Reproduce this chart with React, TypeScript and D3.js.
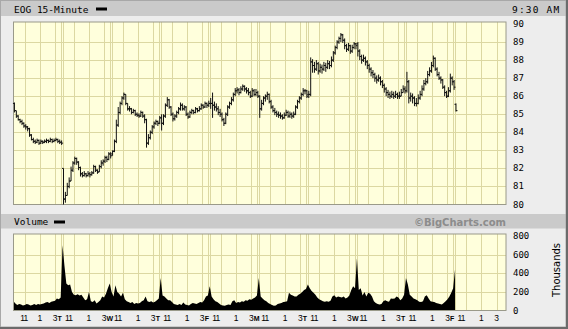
import React from "react";
import * as d3 from "d3";

const W = 568;
const H = 329;

// Trading days shown (15-minute bars, 26 per day)
const dayLetters = ["M", "T", "W", "T", "F", "M", "T", "W", "T", "F"];
const dayOpens = [85.6, 82.0, 82.8, 84.8, 85.6, 86.0, 86.1, 88.9, 86.3, 85.55];

// [high, low, close] per 15-minute bar
const mon1 = [[85.65,85.1,85.2],[85.2,84.8,84.9],[84.95,84.65,84.7],[84.75,84.5,84.6],[84.7,84.4,84.5],[84.55,84.25,84.35],[84.45,84.15,84.3],[84.35,84.05,84.2],[84.25,83.75,83.85],[83.9,83.55,83.6],[83.7,83.4,83.5],[83.6,83.35,83.45],[83.65,83.4,83.55],[83.6,83.3,83.4],[83.6,83.35,83.5],[83.55,83.35,83.45],[83.6,83.4,83.5],[83.65,83.4,83.55],[83.6,83.4,83.5],[83.7,83.45,83.6],[83.65,83.4,83.5],[83.65,83.45,83.55],[83.7,83.5,83.6],[83.65,83.4,83.5],[83.6,83.35,83.45],[83.55,83.3,83.4]];
const tue1 = [[82.0,80.0,80.3],[80.7,80.1,80.5],[81.2,80.5,81.0],[81.5,80.9,81.3],[82.1,81.3,81.9],[82.4,81.8,82.3],[82.65,82.2,82.55],[82.6,82.2,82.35],[82.4,81.9,82.05],[82.1,81.55,81.7],[81.8,81.5,81.6],[81.85,81.55,81.7],[81.75,81.5,81.6],[81.85,81.55,81.7],[81.8,81.5,81.65],[81.85,81.6,81.75],[82.2,81.7,82.1],[82.15,81.8,81.9],[81.95,81.7,81.8],[82.2,81.8,82.1],[82.45,82.0,82.3],[82.5,82.15,82.4],[82.7,82.3,82.6],[82.7,82.35,82.5],[82.9,82.45,82.8],[82.9,82.55,82.7]];
const wed1 = [[83.0,82.7,82.95],[83.6,82.9,83.5],[84.7,83.4,84.4],[85.4,84.3,85.1],[85.7,85.0,85.6],[86.0,85.5,85.9],[86.2,85.8,86.1],[86.1,85.5,85.6],[85.6,85.2,85.3],[85.45,85.15,85.3],[85.35,85.0,85.1],[85.3,85.05,85.2],[85.25,84.9,85.0],[85.1,84.85,84.95],[85.05,84.8,84.9],[85.2,84.85,85.1],[85.15,84.8,84.9],[85.0,84.5,84.7],[84.75,83.15,83.4],[83.9,83.3,83.7],[84.1,83.6,84.0],[84.4,83.9,84.3],[84.6,84.2,84.5],[84.7,84.4,84.6],[84.65,84.35,84.5],[84.9,84.45,84.8]];
const thu1 = [[85.0,84.1,84.5],[85.0,84.4,84.9],[85.6,84.8,85.5],[85.95,85.4,85.8],[85.85,85.3,85.4],[85.45,84.9,85.0],[85.1,84.6,84.75],[85.0,84.65,84.9],[85.2,84.8,85.1],[85.4,85.0,85.3],[85.65,85.2,85.5],[85.6,85.2,85.3],[85.5,85.2,85.4],[85.45,84.9,85.0],[85.1,84.75,84.85],[85.2,84.8,85.1],[85.3,85.0,85.2],[85.25,85.0,85.1],[85.4,85.05,85.3],[85.35,85.1,85.2],[85.45,85.15,85.3],[85.6,85.25,85.5],[85.55,85.3,85.4],[85.7,85.35,85.6],[85.65,85.35,85.5],[85.75,85.4,85.6]];
const fri1 = [[85.9,85.3,85.6],[86.2,84.8,85.5],[85.7,85.2,85.4],[85.6,85.15,85.3],[85.45,84.95,85.1],[85.3,84.85,85.0],[85.1,84.6,84.7],[84.8,84.35,84.5],[85.1,84.45,85.0],[85.5,84.9,85.4],[85.7,85.3,85.6],[85.95,85.5,85.8],[86.2,85.7,86.1],[86.45,86.0,86.3],[86.5,86.15,86.35],[86.45,86.05,86.2],[86.55,86.15,86.4],[86.65,86.3,86.55],[86.6,86.25,86.4],[86.5,86.15,86.3],[86.45,86.05,86.2],[86.3,85.9,86.0],[86.45,85.95,86.3],[86.4,86.0,86.1],[86.4,86.0,86.2],[86.3,85.9,86.0]];
const mon2 = [[86.05,84.8,85.3],[85.8,85.2,85.6],[86.0,85.5,85.9],[86.1,85.7,86.0],[86.25,85.8,86.1],[86.15,85.6,85.7],[85.8,85.3,85.4],[85.5,85.1,85.2],[85.35,84.95,85.1],[85.2,84.85,85.0],[85.15,84.8,84.95],[85.1,84.75,84.9],[85.0,84.7,84.8],[85.1,84.75,84.95],[85.25,84.9,85.1],[85.2,84.8,84.9],[85.15,84.8,85.0],[85.1,84.75,84.9],[85.15,84.8,85.0],[85.5,84.95,85.4],[85.8,85.3,85.7],[86.0,85.6,85.9],[86.2,85.8,86.1],[86.45,86.0,86.3],[86.4,86.1,86.3],[86.35,85.9,86.0]];
const tue2 = [[86.3,85.9,86.1],[88.15,86.0,87.9],[88.05,87.3,87.7],[87.9,87.3,87.5],[88.0,87.4,87.8],[87.9,87.2,87.4],[87.8,87.3,87.6],[87.75,87.25,87.5],[87.9,87.4,87.7],[87.85,87.35,87.6],[88.0,87.5,87.8],[87.95,87.5,87.7],[88.2,87.6,88.0],[88.5,87.9,88.4],[88.8,88.3,88.7],[89.1,88.6,89.0],[89.3,88.9,89.2],[89.5,89.0,89.4],[89.45,88.95,89.1],[89.2,88.6,88.8],[88.9,88.45,88.6],[88.95,88.5,88.8],[88.85,88.35,88.5],[88.85,88.4,88.7],[89.0,88.6,88.9],[88.95,88.6,88.8]];
const wed2 = [[89.0,88.2,88.5],[88.6,88.0,88.2],[88.3,87.8,88.0],[88.3,87.9,88.1],[88.2,87.7,87.9],[88.0,87.5,87.7],[87.8,87.3,87.5],[87.6,87.1,87.3],[87.45,87.0,87.2],[87.3,86.8,87.0],[87.15,86.7,86.9],[87.2,86.8,87.0],[87.1,86.6,86.8],[86.9,86.45,86.6],[86.7,86.2,86.4],[86.5,86.0,86.2],[86.35,85.9,86.1],[86.25,85.85,86.0],[86.3,85.9,86.1],[86.25,85.85,86.0],[86.3,85.9,86.1],[86.2,85.85,86.0],[86.25,85.85,86.0],[86.4,86.0,86.2],[86.6,86.2,86.4],[86.55,86.15,86.3]];
const thu2 = [[87.35,86.2,86.8],[86.9,85.6,85.9],[86.2,85.7,86.0],[86.15,85.6,85.9],[86.0,85.45,85.6],[85.9,85.43,85.6],[86.1,85.55,85.9],[86.3,85.8,86.1],[86.6,86.0,86.4],[86.9,86.3,86.7],[87.0,86.6,86.8],[87.4,86.7,87.2],[87.6,87.1,87.4],[87.9,87.3,87.7],[88.25,87.6,88.1],[88.15,87.4,87.5],[87.6,87.1,87.2],[87.35,86.9,87.0],[87.1,86.7,86.9],[86.95,86.4,86.5],[86.6,86.0,86.2],[86.3,85.9,86.0],[86.5,85.95,86.3],[87.25,86.2,87.0],[87.1,86.6,86.8],[86.9,86.35,86.5]];
const fri2 = [[85.6,85.15,85.2]];
const priceDays = [mon1, tue1, wed1, thu1, fri1, mon2, tue2, wed2, thu2, fri2];

// Volume per bar, thousands
const volMon1 = [100,75,60,70,65,55,60,70,65,55,60,70,60,70,65,70,75,85,90,80,95,100,105,130,120,140];
const volTue1 = [700,480,290,270,280,200,170,165,175,160,170,140,110,120,200,100,90,110,75,90,110,150,140,180,240,290];
const volWed1 = [200,150,270,200,180,150,190,120,100,90,80,90,70,80,75,80,100,110,150,100,90,100,85,95,110,130];
const volThu1 = [350,160,150,130,110,110,90,70,65,60,70,60,85,65,60,55,70,80,75,70,80,90,85,110,150,160];
const volFri1 = [260,150,120,100,90,75,60,55,50,60,65,60,100,110,80,90,85,100,95,110,105,120,115,130,140,160];
const volMon2 = [350,150,130,110,100,80,70,60,50,55,70,75,80,90,95,100,190,170,160,150,150,170,180,200,220,230];
const volTue2 = [280,240,210,190,170,140,120,110,100,95,100,95,105,150,165,140,150,145,140,150,130,140,160,220,260,240];
const volWed2 = [560,220,240,160,200,150,190,180,150,100,80,70,65,70,100,110,100,95,130,125,130,150,140,110,130,170];
const volThu2 = [350,280,170,150,130,120,110,95,90,100,150,165,130,100,95,90,80,75,70,65,80,100,120,150,190,240];
const volFri2 = [440];
const volDays = [volMon1, volTue1, volWed1, volThu1, volFri1, volMon2, volTue2, volWed2, volThu2, volFri2];

const priceTicks = [80, 81, 82, 83, 84, 85, 86, 87, 88, 89, 90];
const volTicks = [0, 200, 400, 600, 800];
const hourTicks = [11, 13, 15];
const hourLabels = ["11", "1", "3"];

const BARS_PER_DAY = 26;
const NUM_DAYS = 10;

const MONO = "'DejaVu Sans Mono', monospace";
const SANS = "'Liberation Sans', Arial, sans-serif";

export default function App() {
  const plotL = 13.5;
  const plotR = 506;
  const mainTop = 22;
  const mainBot = 204.5;
  const volTop = 234;
  const volBot = 310.5;

  const xBar = d3.scaleLinear().domain([0, BARS_PER_DAY * NUM_DAYS]).range([13.5, 504.1]);
  const yP = d3.scaleLinear().domain([80, 90]).range([204.5, 24]);
  const yV = d3.scaleLinear().domain([0, 800]).range([310.5, 236]);

  const bars: { i: number; o: number; h: number; l: number; c: number }[] = [];
  priceDays.forEach((day, d) => {
    day.forEach((b, k) => {
      const o = k === 0 ? dayOpens[d] : day[k - 1][2];
      bars.push({ i: d * BARS_PER_DAY + k, o, h: Math.max(b[0], o, b[2]), l: Math.min(b[1], o, b[2]), c: b[2] });
    });
  });
  const vols: number[] = ([] as number[]).concat(...volDays);

  const area = d3
    .area<number>()
    .x((_, i) => xBar(i))
    .y0(yV(0))
    .y1((d) => yV(d));

  const dayStart = (d: number) => xBar(d * BARS_PER_DAY);
  const hourX = (d: number, h: number) => xBar(d * BARS_PER_DAY + (h - 9.5) * 4);

  const gridColor = "#dcd8a2";
  const days = d3.range(NUM_DAYS);

  const vGrid = (top: number, bot: number, key: string) => (
    <g key={key} stroke={gridColor} strokeWidth={1}>
      {days.map((d) =>
        hourTicks.map((h) => (
          <line key={`${key}h${d}-${h}`} x1={Math.round(hourX(d, h)) + 0.5} x2={Math.round(hourX(d, h)) + 0.5} y1={top} y2={bot} />
        ))
      )}
      {days.slice(1).map((d) => (
        <g key={`${key}d${d}`}>
          <line x1={Math.round(dayStart(d)) - 1.5} x2={Math.round(dayStart(d)) - 1.5} y1={top} y2={bot} />
          <line x1={Math.round(dayStart(d)) + 0.5} x2={Math.round(dayStart(d)) + 0.5} y1={top} y2={bot} />
        </g>
      ))}
    </g>
  );

  return (
    <div style={{ position: "fixed", left: 0, top: 0, width: W, height: H }}>
      <svg width={W} height={H} viewBox={`0 0 ${W} ${H}`} style={{ display: "block" }}>
        {/* backgrounds */}
        <rect x={0} y={0} width={W} height={H} fill="#ededed" />
        <rect x={0} y={0} width={566} height={16} fill="#cacaca" />
        <rect x={0} y={214} width={566} height={14.5} fill="#cacaca" />
        <rect x={0.5} y={0.5} width={565.5} height={326.5} fill="none" stroke="#a8a8a8" />
        <rect x={566} y={0} width={2} height={H} fill="#6b6b6b" />
        <rect x={0} y={327} width={W} height={2} fill="#6b6b6b" />

        {/* header */}
        <text x={14} y={12.5} fontFamily={MONO} fontSize={9.5} fill="#000">EOG 15-Minute</text>
        <rect x={96} y={7.5} width={11} height={3} fill="#000" />
        <text x={512} y={12.5} fontFamily={MONO} fontSize={9.5} letterSpacing={1.2} fill="#000">9:30 AM</text>

        {/* main plot */}
        <rect x={plotL} y={mainTop} width={plotR - plotL} height={mainBot - mainTop} fill="#ffffdc" />
        <g stroke={gridColor}>
          {priceTicks.slice(1, -1).map((v) => (
            <line key={`pg${v}`} x1={plotL} x2={plotR} y1={Math.round(yP(v)) + 0.5} y2={Math.round(yP(v)) + 0.5} />
          ))}
        </g>
        {vGrid(mainTop, mainBot, "m")}
        <rect x={plotL} y={mainTop} width={plotR - plotL} height={mainBot - mainTop} fill="none" stroke="#9a9a8a" />

        <g stroke="#111" strokeWidth={1} fill="none">
          {bars.map((b) => {
            const x = xBar(b.i + 0.5);
            return (
              <path
                key={`b${b.i}`}
                d={`M${x},${yP(b.h)}V${yP(b.l)}M${x - 1.5},${yP(b.o)}H${x}M${x},${yP(b.c)}H${x + 1.5}`}
              />
            );
          })}
        </g>

        {priceTicks.map((v) => (
          <text key={`pl${v}`} x={513} y={yP(v) + 3} fontFamily={MONO} fontSize={9} fill="#000">
            {v}
          </text>
        ))}

        {/* volume header */}
        <text x={14} y={225} fontFamily={MONO} fontSize={9.5} fill="#000">Volume</text>
        <rect x={54} y={220.5} width={11} height={3} fill="#000" />
        <text x={506} y={225.5} textAnchor="end" fontFamily="'DejaVu Sans', sans-serif" fontWeight="bold" fontSize={10} fill="#8c8c8c">
          ©BigCharts.com
        </text>

        {/* volume plot */}
        <rect x={plotL} y={volTop} width={plotR - plotL} height={volBot - volTop} fill="#ffffdc" />
        <g stroke={gridColor}>
          {volTicks.slice(1, -1).map((v) => (
            <line key={`vg${v}`} x1={plotL} x2={plotR} y1={Math.round(yV(v)) + 0.5} y2={Math.round(yV(v)) + 0.5} />
          ))}
        </g>
        {vGrid(volTop, volBot, "v")}
        <path d={area(vols) || ""} fill="#000" />
        <rect x={plotL} y={volTop} width={plotR - plotL} height={volBot - volTop} fill="none" stroke="#9a9a8a" />

        {volTicks.map((v) => (
          <text key={`vl${v}`} x={513} y={yV(v) + 3} fontFamily={MONO} fontSize={9} fill="#000">
            {v}
          </text>
        ))}
        <text transform="translate(560,270) rotate(-90)" textAnchor="middle" fontFamily="'DejaVu Sans', sans-serif" fontSize={10} fill="#000">
          Thousands
        </text>

        {/* x axis labels */}
        <g fontFamily={SANS} fontSize={8.5} fill="#000">
          {days.map((d) => (
            <g key={`xl${d}`}>
              {d === 0 ? (
                <text x={hourX(d, 11) - 1} y={321} textAnchor="middle" letterSpacing={-0.8}>
                  {hourLabels[0]}
                </text>
              ) : (
                <>
                  <text x={dayStart(d) - 5} y={321} fontWeight="bold" fontSize={7}>
                    {dayLetters[d]}
                  </text>
                  <text x={dayStart(d) + 2.5} y={321} letterSpacing={-0.8}>
                    {hourLabels[0]}
                  </text>
                </>
              )}
              <text x={hourX(d, 13)} y={321} textAnchor="middle">
                {hourLabels[1]}
              </text>
              <text x={hourX(d, 15)} y={321} textAnchor="middle">
                {hourLabels[2]}
              </text>
            </g>
          ))}
        </g>
      </svg>
    </div>
  );
}
